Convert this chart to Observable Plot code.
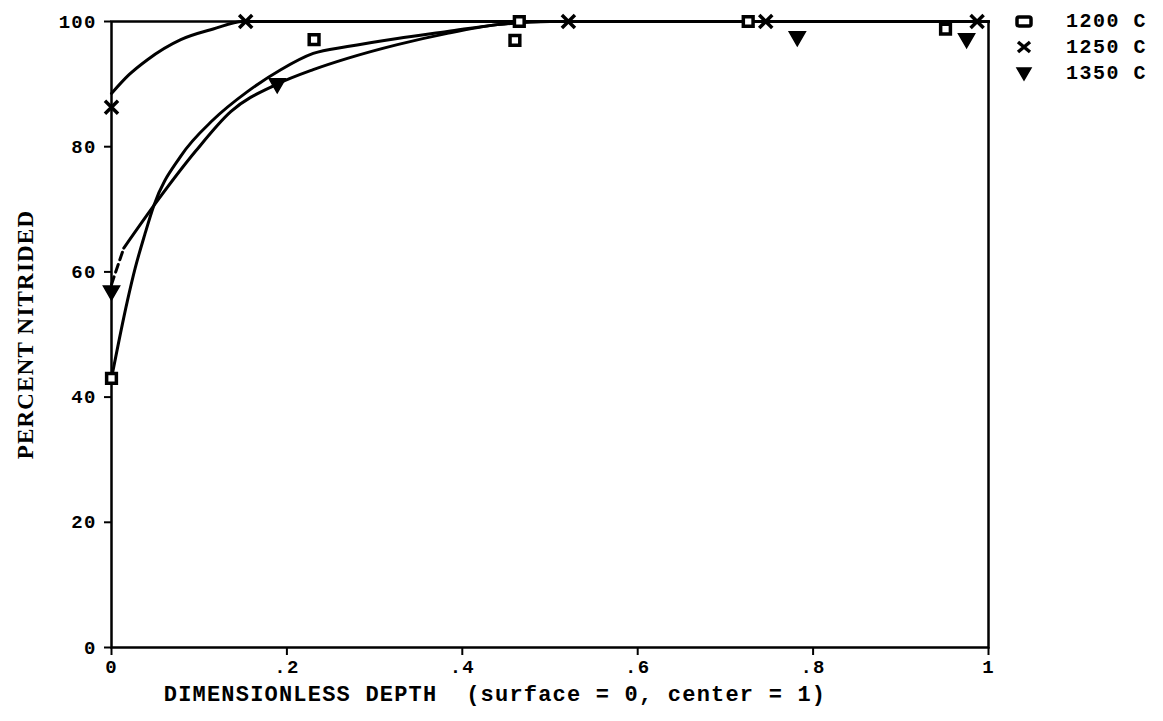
<!DOCTYPE html>
<html>
<head>
<meta charset="utf-8">
<script src="https://cdn.jsdelivr.net/npm/d3@7"></script>
<script src="https://cdn.jsdelivr.net/npm/@observablehq/plot@0.6"></script>
<style>
  html, body { margin: 0; padding: 0; background: #fff; }
  #wrap { position: relative; width: 1163px; height: 721px; }
  #legend { position: absolute; left: 1010px; top: 8px; font-family: "Liberation Mono", monospace; font-weight: bold; font-size: 20px; letter-spacing: 1.5px; }
  #legend .row { display: flex; align-items: center; height: 26px; }
  #legend svg { width: 28px; height: 24px; margin-right: 28px; }
</style>
</head>
<body>
<div id="wrap"></div>
<script>
// Measured points
const series = ["1200 C", "1250 C", "1350 C"];
const x1200 = [0, 0.231, 0.46, 0.465, 0.726, 0.951];
const y1200 = [43, 97.1, 97, 100, 100, 98.8];
const x1250 = [0, 0.153, 0.521, 0.746, 0.987];
const y1250 = [86.3, 100, 100, 100, 100];
const x1350 = [0, 0.189, 0.782, 0.975];
const y1350 = [57, 90.1, 97.6, 97.3];

// Fitted curves
const cx1200 = [0, 0.018, 0.027, 0.038, 0.048, 0.079, 0.116, 0.155, 0.193, 0.23, 0.269, 0.326, 0.383, 0.44, 0.5, 1];
const cy1200 = [43, 55.3, 60.6, 66, 70.5, 78.5, 84.3, 88.8, 92.3, 94.9, 96, 97.3, 98.4, 99.5, 100, 100];
const cx1250 = [0, 0.02, 0.041, 0.079, 0.116, 0.15, 1];
const cy1250 = [88.5, 91.5, 93.9, 97.1, 98.8, 100, 100];
const cx1350dash = [0, 0.014];
const cy1350dash = [58, 63.8];
const cx1350 = [0.014, 0.052, 0.096, 0.136, 0.189, 0.23, 0.269, 0.326, 0.383, 0.44, 0.49, 1];
const cy1350 = [63.8, 71.3, 79.3, 85.6, 90, 92.3, 94.1, 96.3, 98.1, 99.5, 100, 100];

const xTicks = [0, 0.2, 0.4, 0.6, 0.8, 1];
const yTicks = [0, 20, 40, 60, 80, 100];
const xLabel = "DIMENSIONLESS DEPTH  (surface = 0, center = 1)";
const yLabel = "PERCENT NITRIDED";

const pts = (xs, ys) => xs.map((x, i) => ({x, y: ys[i]}));
const mono = "Liberation Mono, DejaVu Sans Mono, monospace";

const plot = Plot.plot({
  width: 1163,
  height: 721,
  marginLeft: 111,
  marginRight: 175,
  marginTop: 21,
  marginBottom: 74,
  style: {fontFamily: mono, fontWeight: "bold", fontSize: "19px", color: "#000", background: "#fff", overflow: "visible"},
  x: {domain: [0, 1]},
  y: {domain: [0, 100]},
  marks: [
    Plot.frame({stroke: "#000", strokeWidth: 2.5}),
    Plot.axisX({ticks: xTicks, tickSize: 8, tickPadding: 4, strokeWidth: 2, label: null,
      tickFormat: d => d === 0 ? "0" : d === 1 ? "1" : String(d).replace("0.", "."),
      fontFamily: mono, fontWeight: "bold", fontSize: 19}),
    Plot.axisY({ticks: yTicks, tickSize: 7, tickPadding: 8, strokeWidth: 2, label: null,
      fontFamily: mono, fontWeight: "bold", fontSize: 19}),
    Plot.line(pts(cx1200, cy1200), {x: "x", y: "y", curve: "monotone-x", stroke: "#000", strokeWidth: 3}),
    Plot.line(pts(cx1250, cy1250), {x: "x", y: "y", curve: "monotone-x", stroke: "#000", strokeWidth: 3}),
    Plot.line(pts(cx1350dash, cy1350dash), {x: "x", y: "y", stroke: "#000", strokeWidth: 3, strokeDasharray: "8,5"}),
    Plot.line(pts(cx1350, cy1350), {x: "x", y: "y", curve: "monotone-x", stroke: "#000", strokeWidth: 3}),
    Plot.dot(pts(x1200, y1200), {x: "x", y: "y", symbol: "square", r: 5.5, stroke: "#000", strokeWidth: 3.5, fill: "#fff"}),
    Plot.dot(pts(x1250, y1250), {x: "x", y: "y", symbol: "times", r: 6, stroke: "#000", strokeWidth: 3.5}),
    Plot.dot(pts(x1350, y1350), {x: "x", y: "y", symbol: "triangle", r: 6, fill: "#000", stroke: "#000", strokeWidth: 1.5, rotate: 180}),
    Plot.text([xLabel], {frameAnchor: "bottom", dx: -55, dy: 53, fontFamily: mono, fontWeight: "bold", fontSize: 22, textAnchor: "middle"}),
    Plot.text([yLabel], {frameAnchor: "left", dx: -86, rotate: -90, fontFamily: "Liberation Serif, serif", fontWeight: "bold", fontSize: 23, textAnchor: "middle"})
  ]
});
// letter spacing for wide typewriter look
d3.select(plot).selectAll("text").style("letter-spacing", "1.2px");

const wrap = document.getElementById("wrap");
wrap.appendChild(plot);

// Legend
const legend = document.createElement("div");
legend.id = "legend";
const symbols = [
  '<rect x="7" y="8" width="14" height="9" rx="2" fill="#fff" stroke="#000" stroke-width="3.5"/>',
  '<path d="M8 7 L20 17 M20 7 L8 17" stroke="#000" stroke-width="3.5"/>',
  '<path d="M7 7 L21 7 L14 19 Z" fill="#000" stroke="#000" stroke-width="1.5"/>'
];
series.forEach((s, i) => {
  const row = document.createElement("div");
  row.className = "row";
  row.innerHTML = '<svg viewBox="0 0 28 24">' + symbols[i] + '</svg><span>' + s + '</span>';
  legend.appendChild(row);
});
wrap.appendChild(legend);
</script>
</body>
</html>
